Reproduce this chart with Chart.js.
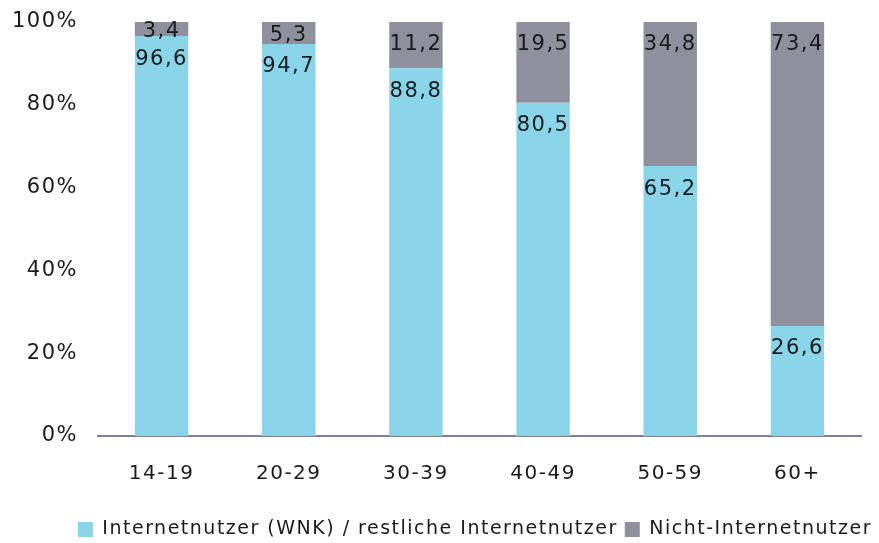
<!DOCTYPE html>
<html>
<head>
<meta charset="utf-8">
<script src="https://cdn.jsdelivr.net/npm/chart.js@4"></script>
<style>
  html, body { margin: 0; padding: 0; background: #fff; }
  #wrap { width: 879px; height: 543px; }
</style>
</head>
<body>
<div id="wrap"><canvas id="chart"></canvas></div>
<script>
const ageGroups = ['14-19', '20-29', '30-39', '40-49', '50-59', '60+'];
const users = [96.6, 94.7, 88.8, 80.5, 65.2, 26.6];   // Internetnutzer
const nonUsers = [3.4, 5.3, 11.2, 19.5, 34.8, 73.4];  // Nicht-Internetnutzer
const yTicks = [0, 20, 40, 60, 80, 100];

const FONT = 'DejaVu Sans, Verdana, sans-serif';

// etwas Laufweite wie im Original
const tracking = {
  id: 'tracking',
  beforeLayout(chart) { chart.ctx.letterSpacing = '1.5px'; },
  beforeDraw(chart) { chart.ctx.letterSpacing = '1.5px'; }
};

// Werte oben im Segment schreiben
const valueLabels = {
  id: 'valueLabels',
  afterDatasetsDraw(chart) {
    const ctx = chart.ctx;
    ctx.save();
    ctx.font = '21px ' + FONT;
    ctx.fillStyle = '#1a1a1a';
    ctx.textAlign = 'center';
    ctx.textBaseline = 'middle';
    chart.data.datasets.forEach((ds, i) => {
      const meta = chart.getDatasetMeta(i);
      meta.data.forEach((bar, j) => {
        const top = Math.min(bar.y, bar.base);
        const h = Math.abs(bar.base - bar.y);
        const y = h < 44 ? top + h / 2 + 3 : top + 23;
        ctx.fillText(ds.data[j].toFixed(1).replace('.', ','), bar.x, y);
      });
    });
    ctx.restore();
  }
};

new Chart(document.getElementById('chart'), {
  type: 'bar',
  data: {
    labels: ageGroups,
    datasets: [
      {
        label: 'Internetnutzer (WNK) / restliche Internetnutzer',
        data: users,
        backgroundColor: '#8AD4EA',
        barPercentage: 0.42,
        categoryPercentage: 1
      },
      {
        label: 'Nicht-Internetnutzer',
        data: nonUsers,
        backgroundColor: '#908F9E',
        barPercentage: 0.42,
        categoryPercentage: 1
      }
    ]
  },
  options: {
    responsive: true,
    maintainAspectRatio: false,
    animation: false,
    layout: { padding: { top: 22, right: 0, left: 0, bottom: -6 } },
    scales: {
      x: {
        stacked: true,
        afterFit: axis => { axis.height += 1; },
        grid: { display: false, drawTicks: false },
        border: { display: true, color: '#817F96', width: 2 },
        ticks: { color: '#1a1a1a', font: { family: FONT, size: 20 }, padding: 26 }
      },
      y: {
        stacked: true,
        min: 0,
        max: 100,
        afterBuildTicks: axis => { axis.ticks = yTicks.map(v => ({ value: v })); },
        afterFit: axis => { axis.width = 98; axis.paddingTop = 0; axis.paddingBottom = 0; },
        grid: { display: false, drawTicks: false },
        border: { display: false },
        ticks: {
          color: '#1a1a1a',
          font: { family: FONT, size: 21 },
          padding: 20,
          callback: v => v + '%'
        }
      },
      // nur Platz rechts vom Diagramm
      yRight: {
        position: 'right',
        display: true,
        afterFit: axis => { axis.width = 18; },
        grid: { display: false, drawTicks: false },
        border: { display: false },
        ticks: { display: false }
      }
    },
    plugins: {
      legend: {
        position: 'bottom',
        align: 'end',
        labels: {
          color: '#1a1a1a',
          font: { family: FONT, size: 19 },
          boxWidth: 15,
          boxHeight: 15,
          padding: 7
        }
      },
      tooltip: { enabled: false }
    }
  },
  plugins: [tracking, valueLabels]
});
</script>
</body>
</html>
